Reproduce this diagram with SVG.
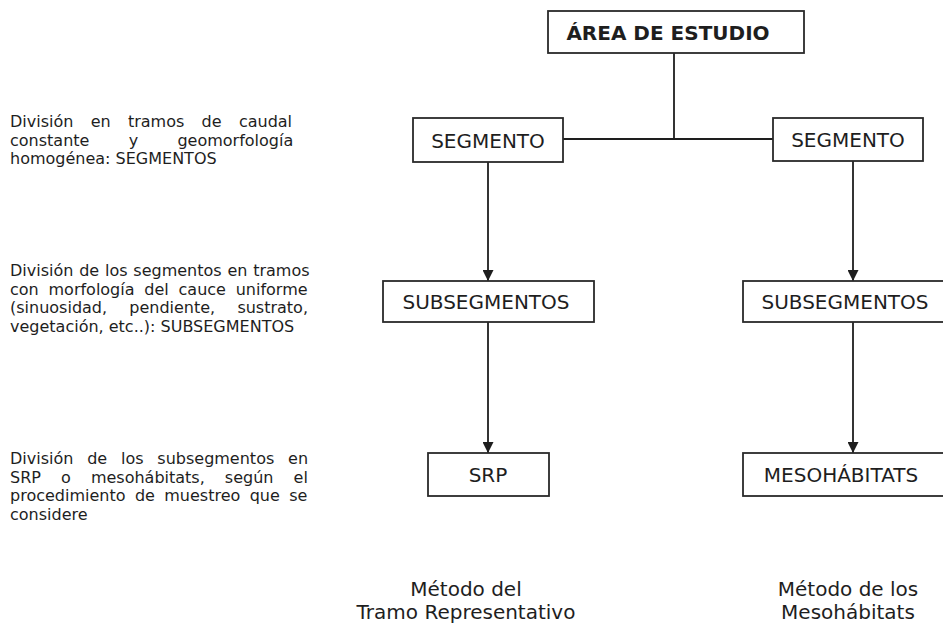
<svg xmlns="http://www.w3.org/2000/svg" width="943" height="631" viewBox="0 0 943 631">
<defs>
<marker id="arr" markerUnits="userSpaceOnUse" markerWidth="11" markerHeight="11" refX="11" refY="5.5" orient="auto">
<path d="M0,0 L11,5.5 L0,11 z" fill="#1e1e1e"/>
</marker>
<style>
.box{fill:#fff;stroke:#2a2a2a;stroke-width:1.8}
.lbl{font-family:"DejaVu Sans",Verdana,sans-serif;font-size:20px;fill:#1e1e1e;text-anchor:middle}
.bold{font-weight:bold}
.note{font-family:"DejaVu Sans",Verdana,sans-serif;font-size:16px;fill:#1e1e1e}
.cap{font-family:"DejaVu Sans",Verdana,sans-serif;font-size:20px;fill:#1e1e1e;text-anchor:middle}
.ln{stroke:#1e1e1e;stroke-width:1.8;fill:none}
</style>
</defs>
<rect width="943" height="631" fill="#fff"/>

<g id="connectors">
<line class="ln" x1="674" y1="53" x2="674" y2="139"/>
<line class="ln" x1="563" y1="139" x2="773" y2="139"/>
<line class="ln" x1="488" y1="162" x2="488" y2="281" marker-end="url(#arr)"/>
<line class="ln" x1="853" y1="161" x2="853" y2="281" marker-end="url(#arr)"/>
<line class="ln" x1="488" y1="322" x2="488" y2="453" marker-end="url(#arr)"/>
<line class="ln" x1="853" y1="322" x2="853" y2="453" marker-end="url(#arr)"/>
</g>

<g id="area">
<rect class="box" x="548" y="11" width="256" height="42"/>
<text class="lbl bold" x="668" y="40">ÁREA DE ESTUDIO</text>
</g>
<g id="segmento-left">
<rect class="box" x="413" y="118" width="150" height="44"/>
<text class="lbl" x="488" y="148">SEGMENTO</text>
</g>
<g id="segmento-right">
<rect class="box" x="773" y="118" width="150" height="43"/>
<text class="lbl" x="848" y="147">SEGMENTO</text>
</g>
<g id="subseg-left">
<rect class="box" x="383" y="281" width="211" height="41"/>
<text class="lbl" x="486" y="309">SUBSEGMENTOS</text>
</g>
<g id="subseg-right">
<rect class="box" x="743" y="281" width="211" height="41"/>
<text class="lbl" x="845" y="309">SUBSEGMENTOS</text>
</g>
<g id="srp">
<rect class="box" x="428" y="453" width="121" height="43"/>
<text class="lbl" x="488" y="482">SRP</text>
</g>
<g id="mesohabitats">
<rect class="box" x="743" y="453" width="211" height="43"/>
<text class="lbl" x="841" y="482">MESOHÁBITATS</text>
</g>

<g id="note-1">
<text class="note" x="10" y="127" word-spacing="12.2">División en tramos de caudal</text>
<text class="note" x="10" y="145.5" word-spacing="34.2">constante y geomorfología</text>
<text class="note" x="10" y="164">homogénea: SEGMENTOS</text>
</g>
<g id="note-2">
<text class="note" x="10" y="276" word-spacing="0.7">División de los segmentos en tramos</text>
<text class="note" x="10" y="294.5" word-spacing="4.7">con morfología del cauce uniforme</text>
<text class="note" x="10" y="313" word-spacing="17.1">(sinuosidad, pendiente, sustrato,</text>
<text class="note" x="10" y="331.5">vegetación, etc..): SUBSEGMENTOS</text>
</g>
<g id="note-3">
<text class="note" x="10" y="464" word-spacing="8.7">División de los subsegmentos en</text>
<text class="note" x="10" y="482.5" word-spacing="15">SRP o mesohábitats, según el</text>
<text class="note" x="10" y="501" word-spacing="4.3">procedimiento de muestreo que se</text>
<text class="note" x="10" y="519.5">considere</text>
</g>

<g id="method-left">
<text class="cap" x="466" y="596">Método del</text>
<text class="cap" x="466" y="619">Tramo Representativo</text>
</g>
<g id="method-right">
<text class="cap" x="848" y="596">Método de los</text>
<text class="cap" x="848" y="619">Mesohábitats</text>
</g>
</svg>
